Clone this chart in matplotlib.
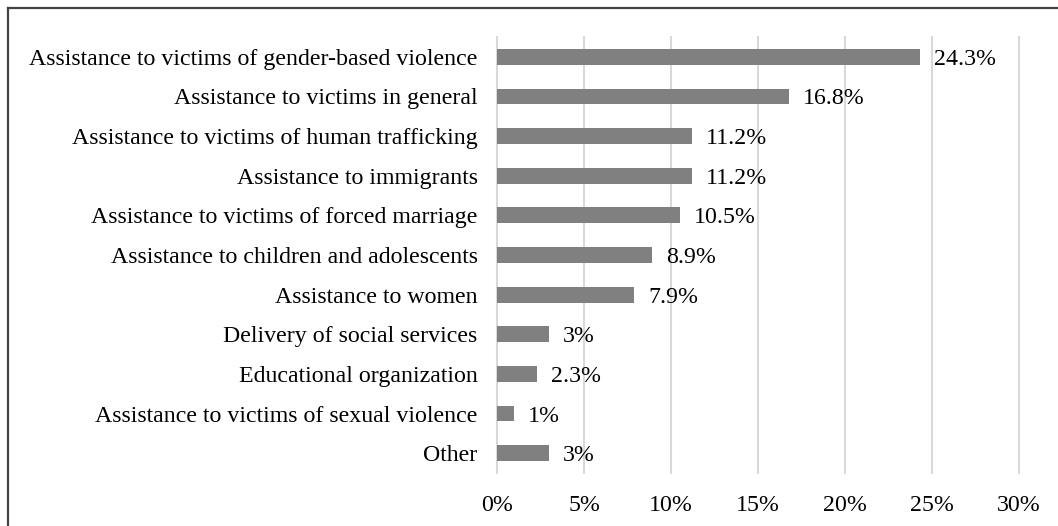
import matplotlib.pyplot as plt
from matplotlib.lines import Line2D

categories = [
    "Assistance to victims of gender-based violence",
    "Assistance to victims in general",
    "Assistance to victims of human trafficking",
    "Assistance to immigrants",
    "Assistance to victims of forced marriage",
    "Assistance to children and adolescents",
    "Assistance to women",
    "Delivery of social services",
    "Educational organization",
    "Assistance to victims of sexual violence",
    "Other",
]
values = [24.3, 16.8, 11.2, 11.2, 10.5, 8.9, 7.9, 3, 2.3, 1, 3]
value_labels = ["24.3%", "16.8%", "11.2%", "11.2%", "10.5%", "8.9%", "7.9%",
                "3%", "2.3%", "1%", "3%"]
x_ticks = [0, 5, 10, 15, 20, 25, 30]
x_tick_labels = ["0%", "5%", "10%", "15%", "20%", "25%", "30%"]

plt.rcParams['font.family'] = ['Liberation Serif', 'DejaVu Serif']
FS = 17.2

W, H = 1058, 526
fig = plt.figure(figsize=(W / 100, H / 100), dpi=100)
ax = fig.add_axes([497 / W, 1 - 473 / H, (1019 - 497) / W, (473 - 37) / H])

y = list(range(len(categories)))
ax.barh(y, values, height=0.4, color="#808080", zorder=3)
for yi, v, lab in zip(y, values, value_labels):
    ax.text(v + 0.8, yi, lab, va="center_baseline", ha="left", fontsize=FS, color="black")

ax.set_xlim(0, 30)
ax.set_ylim(len(categories) - 0.5, -0.5)
ax.set_yticks(y)
ax.set_yticklabels(categories, fontsize=FS)
ax.set_xticks(x_ticks)
ax.set_xticklabels(x_tick_labels, fontsize=FS)
ax.tick_params(axis="both", length=0)
ax.tick_params(axis="y", pad=14)
ax.tick_params(axis="x", pad=16)
for s in ax.spines.values():
    s.set_visible(False)
ax.grid(axis="x", color="#d9d9d9", linewidth=1.5, zorder=0)
for gl in ax.get_xgridlines():
    gl.set_clip_on(False)

# Frame lines along the top and left edges of the figure
fig.add_artist(Line2D([7.5 / W, 7.5 / W], [0, 1 - 8 / H], color="#444444", linewidth=1.6,
                      transform=fig.transFigure))
fig.add_artist(Line2D([7.5 / W, 1], [1 - 8 / H, 1 - 8 / H], color="#444444", linewidth=1.6,
                      transform=fig.transFigure))

fig.savefig("out.png", dpi=100)
